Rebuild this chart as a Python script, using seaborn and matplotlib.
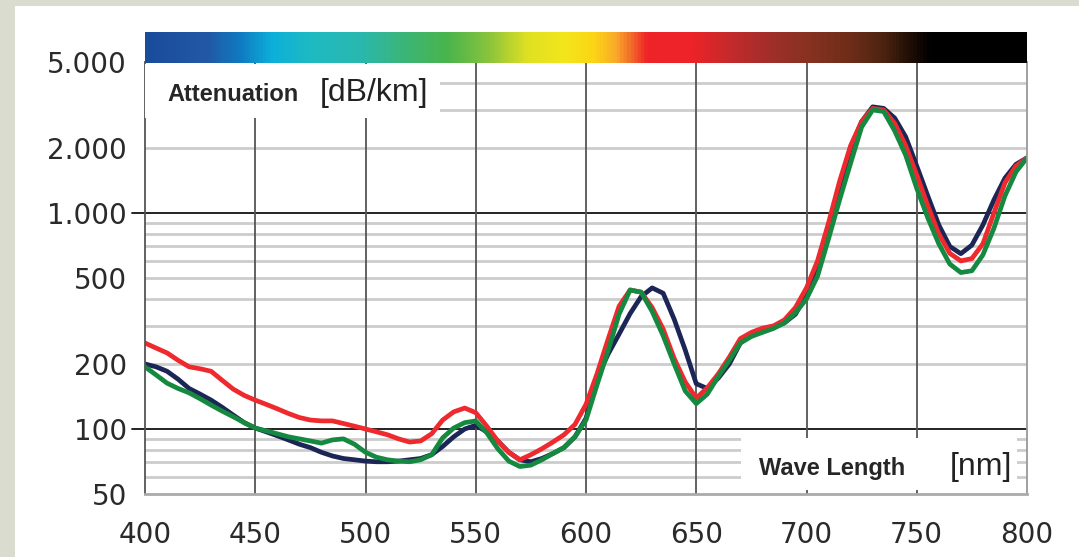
import numpy as np
import pandas as pd
import matplotlib
matplotlib.use("Agg")
import matplotlib.pyplot as plt
import seaborn as sns
from matplotlib.colors import LinearSegmentedColormap
from matplotlib.patches import Rectangle
from matplotlib.ticker import NullLocator

# wavelength grid (nm) and attenuation of the three fibres (dB/km)
wavelength = list(range(400, 801, 5))

navy_vals = [200, 194, 185, 170, 154, 145, 136, 126, 116, 107,
             101, 97, 93, 89, 85, 82, 78, 75, 73, 72,
             71, 70.5, 70.5, 71, 72, 73, 76, 83, 92, 100,
             104, 97, 88, 78, 72, 70.5, 73, 77, 82, 92,
             112, 172, 222, 275, 342, 410, 450, 425, 322, 232,
             162, 154, 172, 200, 250, 275, 285, 295, 310, 340,
             420, 570, 850, 1300, 2000, 2650, 3100, 3050, 2750, 2250,
             1650, 1200, 880, 700, 648, 710, 880, 1150, 1450, 1680,
             1800]

red_vals = [250, 237, 225, 208, 194, 190, 185, 168, 153, 143,
            136, 130, 124, 118, 113, 110, 109, 109, 106, 103,
            100, 97, 94, 90, 87, 88, 95, 110, 120, 125,
            119, 103, 88, 78, 72, 76, 81, 87, 94, 105,
            130, 180, 260, 370, 440, 430, 365, 290, 212, 165,
            139, 155, 180, 215, 262, 280, 293, 300, 320, 365,
            450, 600, 900, 1400, 2050, 2650, 3050, 3000, 2600, 2050,
            1500, 1080, 800, 650, 600, 615, 720, 1000, 1380, 1650,
            1800]

green_vals = [194, 178, 163, 154, 147, 138, 129, 121, 114, 107,
              101, 98, 95, 92, 90, 88, 86, 89, 90, 85,
              78, 74, 72, 71, 70.5, 72, 76, 91, 101, 107,
              109, 96, 81, 71, 67, 68, 72, 77, 82, 92,
              110, 160, 230, 340, 440, 430, 350, 270, 200, 150,
              131, 145, 175, 208, 250, 268, 280, 292, 310, 345,
              400, 510, 760, 1150, 1700, 2500, 3000, 2950, 2400, 1850,
              1300, 950, 720, 580, 530, 540, 640, 850, 1200, 1550,
              1800]

samples = ["navy", "red", "green"]
line_colors = ["#1c2656", "#ee2a2e", "#14893f"]

x_ticks = [400, 450, 500, 550, 600, 650, 700, 750, 800]
y_ticks = [50, 100, 200, 500, 1000, 2000, 5000]
y_tick_labels = ["50", "100", "200", "500", "1.000", "2.000", "5.000"]

# spectrum strip colours along the wavelength axis
spectrum_nm = [400, 428, 443, 457, 475, 498, 514, 537, 556, 573, 590,
               604, 614, 628, 648, 665, 688, 704, 720, 735, 748, 757, 800]
spectrum_colors = ["#1a4c9c", "#2259a6", "#0f7cc2", "#0cb0da", "#1fbac2",
                   "#2ab8ad", "#39b67f", "#4ab44c", "#8ac43d", "#dfe023",
                   "#f3e61c", "#fcd416", "#f8a82a", "#ee2229", "#ee2229",
                   "#c62a2c", "#9a2f29", "#84321f", "#6e2d19", "#4e2410",
                   "#1e0e06", "#000000", "#000000"]

df = pd.DataFrame({
    "wavelength": wavelength * 3,
    "attenuation": navy_vals + red_vals + green_vals,
    "sample": [s for s in samples for _ in wavelength],
})

sns.set_style("white")
plt.rcParams["font.family"] = ["DejaVu Sans"]

W, H = 1079, 557
fig = plt.figure(figsize=(W / 100, H / 100), dpi=100, facecolor="#d9dccf")
fig.add_artist(Rectangle((15 / W, 0), 1 - 15 / W, (H - 6) / H,
                         transform=fig.transFigure, facecolor="white",
                         edgecolor="none", zorder=-1))

ax = fig.add_axes([145 / W, (H - 494) / H, 882 / W, 432 / H])
ax.set_facecolor("white")

# grid
for v in [60, 70, 80, 90, 200, 300, 400, 500, 600, 700, 800, 900, 2000, 3000, 4000]:
    ax.axhline(v, color="#cccccc", lw=2, zorder=0.5)
for v in [100, 1000]:
    ax.axhline(v, color="#111111", lw=1.3, zorder=0.8)
    ax.axhline(v, xmin=-0.015, xmax=0, color="#111111", lw=1.3, clip_on=False)
for x in x_ticks[1:-1]:
    ax.axvline(x, color="#555555", lw=1.3, zorder=0.8)

sns.lineplot(data=df, x="wavelength", y="attenuation", hue="sample",
             hue_order=samples, palette=line_colors, linewidth=3.4,
             estimator=None, sort=False, legend=False, ax=ax, zorder=2,
             solid_joinstyle="round", solid_capstyle="round")

ax.set_yscale("log")
ax.set_xlim(400, 800)
ax.set_ylim(50, 5000)
ax.set_xticks(x_ticks)
ax.set_xticklabels([str(t) for t in x_ticks])
ax.set_yticks(y_ticks)
ax.set_yticklabels(y_tick_labels)
ax.yaxis.set_minor_locator(NullLocator())
ax.set_xlabel("")
ax.set_ylabel("")
ax.tick_params(axis="x", length=6.5, width=1.3, color="#555555", pad=13,
               labelsize=20, labelcolor="#2a2a2a")
ax.tick_params(axis="y", length=0, pad=13, labelsize=20, labelcolor="#2a2a2a")

ax.spines["top"].set_visible(False)
ax.spines["left"].set_color("#555555")
ax.spines["left"].set_linewidth(1.3)
ax.spines["right"].set_color("#999999")
ax.spines["right"].set_linewidth(1.3)
ax.spines["bottom"].set_color("#aaaaaa")
ax.spines["bottom"].set_linewidth(2)

# spectrum strip
cmap = LinearSegmentedColormap.from_list(
    "spectrum", [((n - 400) / 400, c) for n, c in zip(spectrum_nm, spectrum_colors)])
cax = fig.add_axes([145 / W, (H - 63.5) / H, 882 / W, 32 / H])
cax.imshow(np.linspace(400, 800, 800)[None, :], aspect="auto", cmap=cmap,
           extent=[400, 800, 0, 1])
cax.axis("off")

# label boxes
lab_font = ["Liberation Sans", "DejaVu Sans"]
fig.add_artist(Rectangle((145 / W, (H - 118) / H), 295 / W, 54 / H,
                         transform=fig.transFigure, facecolor="white",
                         edgecolor="none", zorder=1))
fig.text(167 / W, (H - 101) / H, "Attenuation", fontsize=17, fontweight="bold",
         family=lab_font, va="baseline", zorder=2)
fig.text(320 / W, (H - 101) / H, "[dB/km]", fontsize=23, color="#222222",
         family=lab_font, va="baseline", zorder=2)

fig.add_artist(Rectangle((741 / W, (H - 490) / H), 276 / W, 52 / H,
                         transform=fig.transFigure, facecolor="white",
                         edgecolor="none", zorder=1))
fig.text(759 / W, (H - 475) / H, "Wave Length", fontsize=17, fontweight="bold",
         family=lab_font, va="baseline", zorder=2)
fig.text(950 / W, (H - 475) / H, "[nm]", fontsize=23, color="#222222",
         family=lab_font, va="baseline", zorder=2)

fig.savefig("out.png", dpi=100)
